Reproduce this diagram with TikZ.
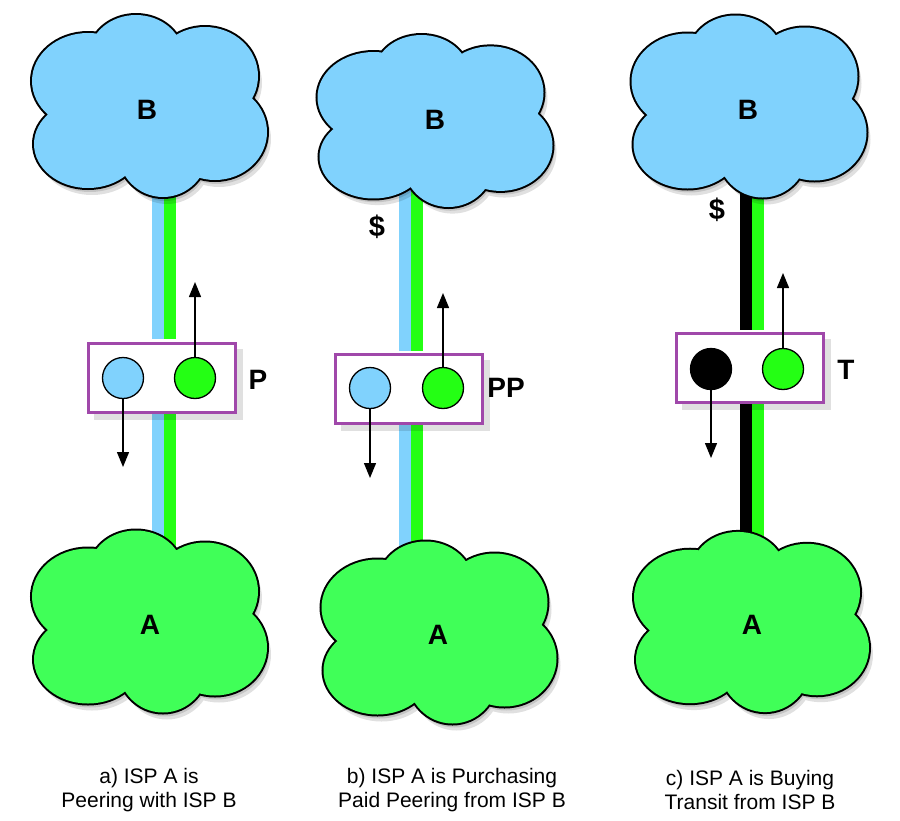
\documentclass[tikz,border=0pt]{standalone}
\usepackage{fontspec}
\setmainfont{Liberation Sans}
\usetikzlibrary{arrows.meta}

\definecolor{skyb}{RGB}{128,210,253}
\definecolor{cloudg}{RGB}{64,255,88}
\definecolor{lineg}{RGB}{36,255,20}
\definecolor{boxp}{RGB}{160,72,170}

\newcommand\cloudlobes{(-14,-50) ellipse [x radius=47pt, y radius=41pt]
 (-62,-25) ellipse [x radius=56pt, y radius=48pt]
 (55,-30) ellipse [x radius=53pt, y radius=49pt]
 (65,26) ellipse [x radius=52pt, y radius=48pt]
 (13,45) ellipse [x radius=45pt, y radius=46pt]
 (-62,38) ellipse [x radius=54pt, y radius=44pt]
 (0,5) ellipse [x radius=80pt, y radius=55pt]}

\newcommand\drawcloud[4]{%
 \begin{scope}[shift={(#1,#2)}, yscale=#3]
   \begin{scope}[transparency group, opacity=0.12]
     \fill[black, shift={(2,4)}] \cloudlobes;
   \end{scope}
   \begin{scope}[transparency group, opacity=0.12]
     \fill[black, shift={(4,7)}] \cloudlobes;
   \end{scope}
   \draw[line width=4pt] \cloudlobes;
   \fill[#4] \cloudlobes;
 \end{scope}}

\tikzset{
  big/.style={font=\bfseries\fontsize{28}{30}\selectfont, inner sep=0pt},
  dollar/.style={font=\bfseries\fontsize{29}{31}\selectfont, inner sep=0pt},
  captxt/.style={font=\fontsize{21}{24}\selectfont, align=center, inner sep=0pt},
  boxst/.style={draw=boxp, line width=3pt, fill=white, minimum width=147pt, minimum height=69pt, inner sep=0pt},
  circ/.style={circle, draw=black, line width=1.3pt, minimum size=41pt, inner sep=0pt},
  arr/.style={line width=1.3pt, -{Triangle[length=15pt, width=12pt]}},
  wire/.style={line width=12pt}
}

\begin{document}
\begin{tikzpicture}[x=1pt, y=-1pt]
\fill[white] (0,0) rectangle (900,820);
\useasboundingbox (0,0) rectangle (900,820);

\coordinate (cBa) at (150,106);
\coordinate (cBb) at (435.5,121);
\coordinate (cBc) at (749.5,106.5);
\coordinate (cAa) at (150,621.5);
\coordinate (cAb) at (439.5,632.5);
\coordinate (cAc) at (752,622);

\coordinate (pa) at (162,377.5);
\coordinate (pb) at (409,389);
\coordinate (pc) at (749.5,368);

% wires
\foreach \p/\B/\A/\lc in {pa/cBa/cAa/skyb, pb/cBb/cAb/skyb, pc/cBc/cAc/black}{
  \draw[wire, \lc] ([xshift=-4pt]\p |- \B) -- ([xshift=-4pt, yshift=38.5pt]\p);
  \draw[wire, \lc] ([xshift=-4pt, yshift=-34pt]\p) -- ([xshift=-4pt]\p |- \A);
  \draw[wire, lineg] ([xshift=8pt]\p |- \B) -- ([xshift=8pt, yshift=38.5pt]\p);
  \draw[wire, lineg] ([xshift=8pt, yshift=-34pt]\p) -- ([xshift=8pt]\p |- \A);
}

% clouds
\drawcloud{150}{106}{1}{skyb}
\drawcloud{435.5}{121}{0.945}{skyb}
\drawcloud{749.5}{106.5}{1}{skyb}
\drawcloud{150}{621.5}{1}{cloudg}
\drawcloud{439.5}{632.5}{1}{cloudg}
\drawcloud{752}{622}{0.99}{cloudg}

\node[big] (Ba) at (147,110) {B};
\node[big] (Bb) at (435,120) {B};
\node[big] (Bc) at (748,110) {B};
\node[big] (Aa) at (150,625) {A};
\node[big] (Ab) at (438,635) {A};
\node[big] (Ac) at (752,625) {A};

% box shadows
\foreach \p in {pa,pb,pc}{
  \fill[black, opacity=0.12] ([xshift=-71pt, yshift=32pt]\p) ++(3,3) rectangle ++(149,71);
}

% boxes
\node[boxst] (boxa) at (pa) {};
\node[boxst] (boxb) at (pb) {};
\node[boxst] (boxc) at (pc) {};

% circles
\node[circ, fill=skyb] (a1) at (123,378) {};
\node[circ, fill=lineg] (a2) at (195,378) {};
\node[circ, fill=skyb] (b1) at (370,388) {};
\node[circ, fill=lineg] (b2) at (443,388) {};
\node[circ, fill=black] (c1) at (711,369) {};
\node[circ, fill=lineg] (c2) at (783,369) {};

\coordinate (ua) at (195,282);
\coordinate (da) at (123,467);
\coordinate (ub) at (443,293);
\coordinate (db) at (370,478);
\coordinate (uc) at (783,273);
\coordinate (dc) at (711,458);

\draw[arr] (a2.north) -- (ua);
\draw[arr] (a1.south) -- (da);
\draw[arr] (b2.north) -- (ub);
\draw[arr] (b1.south) -- (db);
\draw[arr] (c2.north) -- (uc);
\draw[arr] (c1.south) -- (dc);

% labels
\node[big] (lP) at (258,380) {P};
\node[big] (lPP) at (506,388) {PP};
\node[big] (lT) at (846,370) {T};
\node[dollar] (d1) at (377,227) {\$};
\node[dollar] (d2) at (717,210) {\$};

% captions
\node[captxt] (capa) at (149,790) {a) ISP A is\\Peering with ISP B};
\node[captxt] (capb) at (452,790) {b) ISP A is Purchasing\\Paid Peering from ISP B};
\node[captxt] (capc) at (750,790) {c) ISP A is Buying\\Transit from ISP B};
\end{tikzpicture}
\end{document}
